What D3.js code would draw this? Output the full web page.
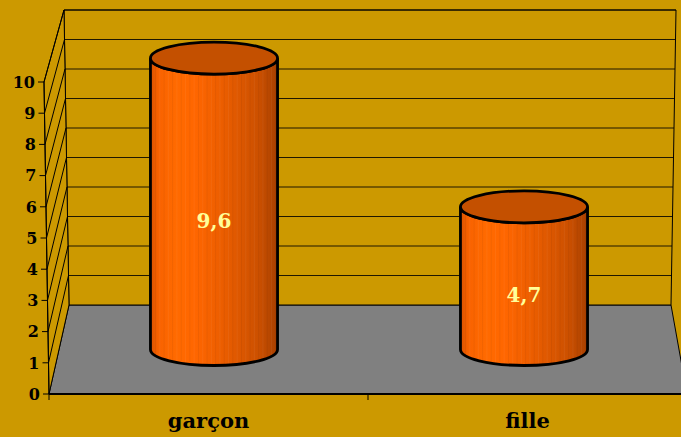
<!DOCTYPE html>
<html>
<head>
<meta charset="utf-8">
<script src="https://cdn.jsdelivr.net/npm/d3@7"></script>
<style>
  html, body { margin: 0; padding: 0; background: #CC9900; }
  svg { display: block; }
</style>
</head>
<body>
<div id="chart"></div>
<script>
// data
const categories = ["garçon", "fille"];
const values = [9.6, 4.7];
const yTicks = [0, 1, 2, 3, 4, 5, 6, 7, 8, 9, 10];

const W = 681, H = 437;
const bg = "#CC9900";

const svg = d3.select("#chart").append("svg")
    .attr("width", W)
    .attr("height", H);

svg.append("rect").attr("width", W).attr("height", H).attr("fill", bg);

// pseudo-3d frame: front plane and back plane, value scale per plane
const yFront = d3.scaleLinear().domain([0, 10]).range([394, 82]);
const yBack  = d3.scaleLinear().domain([0, 10]).range([305, 10]);
// x edges of each plane at v=0 and v=10 (slight keystone)
const frontL = d3.scaleLinear().domain([0, 10]).range([49, 44]);
const frontR = d3.scaleLinear().domain([0, 10]).range([687, 693]);
const backL  = d3.scaleLinear().domain([0, 10]).range([69, 64]);
const backR  = d3.scaleLinear().domain([0, 10]).range([671, 676]);

// u: 0..1 along category axis, v: value, d: depth 0 (front) .. 1 (back)
function P(u, v, d) {
    const fx = d3.interpolateNumber(frontL(v), frontR(v))(u);
    const bx = d3.interpolateNumber(backL(v), backR(v))(u);
    return [fx + (bx - fx) * d, yFront(v) + (yBack(v) - yFront(v)) * d];
}

const xBand = d3.scaleBand()
    .domain(categories)
    .range([0, 1])
    .paddingInner(0.59)
    .paddingOuter(0.295);

const line = d3.line();
const poly = pts => line(pts) + "Z";

// floor
svg.append("path")
    .attr("d", poly([P(0, 0, 0), P(1, 0, 0), P(1, 0, 1), P(0, 0, 1)]))
    .attr("fill", "#808080")
    .attr("stroke", "#000")
    .attr("stroke-width", 1);

// back wall
svg.append("path")
    .attr("d", poly([P(0, 0, 1), P(1, 0, 1), P(1, 10, 1), P(0, 10, 1)]))
    .attr("fill", bg)
    .attr("stroke", "#000")
    .attr("stroke-width", 1);

// side wall
svg.append("path")
    .attr("d", poly([P(0, 0, 0), P(0, 0, 1), P(0, 10, 1), P(0, 10, 0)]))
    .attr("fill", bg)
    .attr("stroke", "#000")
    .attr("stroke-width", 1);

// gridlines
const grid = svg.append("g").attr("stroke", "#000").attr("stroke-width", 1).attr("fill", "none");
yTicks.filter(v => v > 0).forEach(v => {
    grid.append("path").attr("d", line([P(0, v, 1), P(1, v, 1)])).attr("stroke-opacity", 0.85);
    grid.append("path").attr("d", line([P(0, v, 0), P(0, v, 1)]));
});

// value axis (front left edge)
svg.append("path")
    .attr("d", line([P(0, 0, 0), P(0, 10, 0)]))
    .attr("stroke", "#000").attr("stroke-width", 1);

const yAxisG = svg.append("g");
yTicks.forEach(v => {
    const [x, y] = P(0, v, 0);
    yAxisG.append("line")
        .attr("x1", x - 6).attr("x2", x)
        .attr("y1", y).attr("y2", y)
        .attr("stroke", "#000");
    yAxisG.append("text")
        .attr("x", x - 9)
        .attr("y", y)
        .attr("dy", "0.36em")
        .attr("text-anchor", "end")
        .style("font-family", "'DejaVu Serif', serif")
        .style("font-weight", "bold")
        .style("font-size", "16px")
        .attr("fill", "#000")
        .text(v);
});

// category axis (front bottom edge)
svg.append("path")
    .attr("d", line([P(0, 0, 0), P(1, 0, 0)]))
    .attr("stroke", "#000").attr("stroke-width", 2);

[0, 0.5, 1].forEach(u => {
    const [x, y] = P(u, 0, 0);
    svg.append("line")
        .attr("x1", x).attr("x2", x)
        .attr("y1", y).attr("y2", y + 6)
        .attr("stroke", "#000");
});

categories.forEach(c => {
    const u = xBand(c) + xBand.bandwidth() / 2;
    const [x] = P(u, 0, 0);
    svg.append("text")
        .attr("x", x)
        .attr("y", 428)
        .attr("text-anchor", "middle")
        .style("font-family", "'DejaVu Serif', serif")
        .style("font-weight", "bold")
        .style("font-size", "21px")
        .attr("fill", "#000")
        .text(c);
});

// cylinder gradient
const defs = svg.append("defs");
const grad = defs.append("linearGradient").attr("id", "cyl").attr("x1", "0").attr("x2", "1").attr("y1", "0").attr("y2", "0");
[
    [0, "#D85200"], [0.06, "#F86200"], [0.2, "#FF6A00"], [0.35, "#FF6600"],
    [0.6, "#E85C00"], [0.85, "#CC5000"], [1, "#A84000"]
].forEach(([o, c]) => grad.append("stop").attr("offset", o).attr("stop-color", c));

const depth = 0.5;
const ry = 16;

categories.forEach((c, i) => {
    const v = values[i];
    const u0 = xBand(c);
    const u1 = u0 + xBand.bandwidth();
    const uc = (u0 + u1) / 2;
    const [xl] = P(u0, 0, depth);
    const [xr] = P(u1, 0, depth);
    const [xc, yb] = P(uc, 0, depth);
    const [, yt] = P(uc, v, depth);
    const rx = (xr - xl) / 2;

    const g = svg.append("g");
    const bodyD = `M${xc - rx},${yt} L${xc - rx},${yb} A${rx},${ry} 0 0 0 ${xc + rx},${yb} L${xc + rx},${yt} A${rx},${ry} 0 0 1 ${xc - rx},${yt} Z`;

    g.append("path").attr("d", bodyD).attr("fill", "url(#cyl)");

    // faint facet stripes
    const clipId = "clip" + i;
    defs.append("clipPath").attr("id", clipId).append("path").attr("d", bodyD);
    const stripes = g.append("g").attr("clip-path", `url(#${clipId})`);
    d3.range(xc - rx + 5, xc + rx, 4.3).forEach((sx, k) => {
        stripes.append("line")
            .attr("x1", sx).attr("x2", sx)
            .attr("y1", yt).attr("y2", yb + ry)
            .attr("stroke", k % 2 ? "#ffffff" : "#000000")
            .attr("stroke-opacity", 0.05)
            .attr("stroke-width", 1);
    });

    g.append("path").attr("d", bodyD)
        .attr("fill", "none").attr("stroke", "#000").attr("stroke-width", 2.8);

    g.append("ellipse")
        .attr("cx", xc).attr("cy", yt)
        .attr("rx", rx).attr("ry", ry)
        .attr("fill", "#C45000")
        .attr("stroke", "#000").attr("stroke-width", 2.8);

    const [, ym] = P(uc, v / 2, depth);
    g.append("text")
        .attr("x", xc)
        .attr("y", ym + 17)
        .attr("dy", "0.36em")
        .attr("text-anchor", "middle")
        .style("font-family", "'DejaVu Serif', serif")
        .style("font-weight", "bold")
        .style("font-size", "20px")
        .attr("fill", "#FFFF99")
        .text(String(v).replace(".", ","));
});
</script>
</body>
</html>
